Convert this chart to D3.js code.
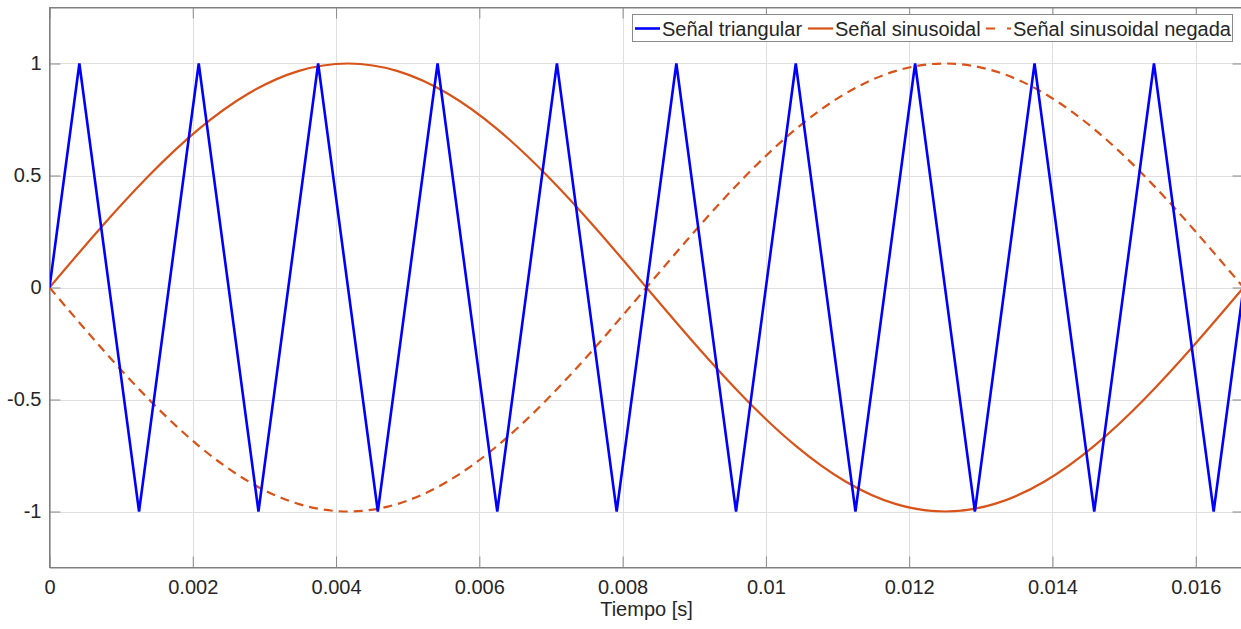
<!DOCTYPE html>
<html>
<head>
<meta charset="utf-8">
<script src="https://cdn.jsdelivr.net/npm/d3@7"></script>
<style>
  html, body { margin: 0; padding: 0; background: #fff; }
  svg { display: block; }
  text { font-family: "Liberation Sans", Arial, Helvetica, sans-serif; fill: #262626; }
</style>
</head>
<body>
<svg id="chart" width="1241" height="629"></svg>
<script>
// ---- Data ----
const xTicks = [0, 0.002, 0.004, 0.006, 0.008, 0.01, 0.012, 0.014, 0.016];
const xTickLabels = ["0", "0.002", "0.004", "0.006", "0.008", "0.01", "0.012", "0.014", "0.016"];
const yTicks = [-1, -0.5, 0, 0.5, 1];
const yTickLabels = ["-1", "-0.5", "0", "0.5", "1"];

// Triangle wave vertices
const triTime = [0, 0.000417, 0.00125, 0.002083, 0.002917, 0.00375, 0.004583, 0.005417,
  0.00625, 0.007083, 0.007917, 0.00875, 0.009583, 0.010417, 0.01125, 0.012083,
  0.012917, 0.01375, 0.014583, 0.015417, 0.01625, 0.016667];
const triValue = [0, 1, -1, 1, -1, 1, -1, 1, -1, 1, -1, 1, -1, 1, -1, 1, -1, 1, -1, 1, -1, 0];

// Sinusoid samples
const sinTime = [0, 0.000694, 0.001389, 0.002083, 0.002778, 0.003472, 0.004167, 0.004861,
  0.005556, 0.00625, 0.006944, 0.007639, 0.008333, 0.009028, 0.009722, 0.010417,
  0.011111, 0.011806, 0.0125, 0.013194, 0.013889, 0.014583, 0.015278, 0.015972, 0.016667];
const sinValue = [0, 0.259, 0.5, 0.707, 0.866, 0.966, 1, 0.966, 0.866, 0.707, 0.5, 0.259, 0,
  -0.259, -0.5, -0.707, -0.866, -0.966, -1, -0.966, -0.866, -0.707, -0.5, -0.259, 0];
const negSinValue = [0, -0.259, -0.5, -0.707, -0.866, -0.966, -1, -0.966, -0.866, -0.707, -0.5, -0.259, 0,
  0.259, 0.5, 0.707, 0.866, 0.966, 1, 0.966, 0.866, 0.707, 0.5, 0.259, 0];

const seriesNames = ["Señal triangular", "Señal sinusoidal", "Señal sinusoidal negada"];
const xLabel = "Tiempo [s]";

// ---- Layout ----
const svg = d3.select("#chart");
const L = 49.5, R = 1243.5, T = 7.5, B = 567.5;
const x = d3.scaleLinear().domain([0, 1 / 60]).range([L, R]);
const y = d3.scaleLinear().domain([-1.25, 1.25]).range([B, T]);

const blue = "#0000ff", orange = "#d95319", axisCol = "#262626", gridCol = "#dfdfdf";
const fontSize = 20;

svg.append("defs").append("clipPath").attr("id", "clip")
  .append("rect").attr("x", L).attr("y", T).attr("width", R - L).attr("height", B - T);

// Grid
const grid = svg.append("g");
grid.selectAll("line.gx").data(xTicks).enter().append("line")
  .attr("x1", d => Math.round(x(d)) + 0.5).attr("x2", d => Math.round(x(d)) + 0.5)
  .attr("y1", T).attr("y2", B).attr("stroke", gridCol).attr("stroke-width", 1);
grid.selectAll("line.gy").data(yTicks).enter().append("line")
  .attr("y1", d => Math.round(y(d)) + 0.5).attr("y2", d => Math.round(y(d)) + 0.5)
  .attr("x1", L).attr("x2", R).attr("stroke", gridCol).attr("stroke-width", 1);

// Axes (ticks inward)
const tickLen = 11;
const xAxisB = d3.axisBottom(x).tickValues(xTicks).tickSizeInner(-tickLen).tickSizeOuter(0)
  .tickFormat((d, i) => xTickLabels[i]).tickPadding(12);
const gxb = svg.append("g").attr("transform", `translate(0,${B})`).call(xAxisB);
const xAxisT = d3.axisTop(x).tickValues(xTicks).tickSizeInner(-tickLen).tickSizeOuter(0).tickFormat("");
const gxt = svg.append("g").attr("transform", `translate(0,${T})`).call(xAxisT);
const yAxisL = d3.axisLeft(y).tickValues(yTicks).tickSizeInner(-tickLen).tickSizeOuter(0)
  .tickFormat((d, i) => yTickLabels[i]).tickPadding(8);
const gyl = svg.append("g").attr("transform", `translate(${L},0)`).call(yAxisL);
const yAxisR = d3.axisRight(y).tickValues(yTicks).tickSizeInner(-tickLen).tickSizeOuter(0).tickFormat("");
const gyr = svg.append("g").attr("transform", `translate(${R},0)`).call(yAxisR);

[gxb, gxt, gyl, gyr].forEach(g => {
  g.select(".domain").attr("stroke", "#808080").attr("stroke-width", 1);
  g.selectAll(".tick line").attr("stroke", "#8a8a8a").attr("stroke-width", 1);
  g.selectAll(".tick text").attr("font-size", fontSize).attr("fill", axisCol)
    .style("font-family", '"Liberation Sans", Arial, sans-serif');
});

// Lines
const plot = svg.append("g").attr("clip-path", "url(#clip)");
const line = d3.line().x(d => x(d[0])).y(d => y(d[1]));
const smooth = d3.line().x(d => x(d[0])).y(d => y(d[1])).curve(d3.curveNatural);

plot.append("path").datum(sinTime.map((t, i) => [t, sinValue[i]]))
  .attr("d", smooth).attr("fill", "none").attr("stroke", orange).attr("stroke-width", 2.2);
plot.append("path").datum(sinTime.map((t, i) => [t, negSinValue[i]]))
  .attr("d", smooth).attr("fill", "none").attr("stroke", orange).attr("stroke-width", 2.2)
  .attr("stroke-dasharray", "9,6");
plot.append("path").datum(triTime.map((t, i) => [t, triValue[i]]))
  .attr("d", line).attr("fill", "none").attr("stroke", blue).attr("stroke-width", 2.6)
  .attr("stroke-linejoin", "miter");

// Re-draw the box edges on top
svg.append("rect").attr("x", L).attr("y", T).attr("width", R - L).attr("height", B - T)
  .attr("fill", "none").attr("stroke", "#808080").attr("stroke-width", 1);

// Axis label
svg.append("text").attr("x", (L + R) / 2).attr("y", 616).attr("text-anchor", "middle")
  .attr("font-size", fontSize).text(xLabel);

// Legend
const leg = svg.append("g");
leg.append("rect").attr("x", 632.5).attr("y", 14.5).attr("width", 600).attr("height", 27)
  .attr("fill", "#fff").attr("stroke", "#8a8a8a").attr("stroke-width", 1);
const legY = 28.5;
const legItems = [
  { x0: 635, color: blue, dash: null, w: 2.6 },
  { x0: 808, color: orange, dash: null, w: 2.2 },
  { x0: 986, color: orange, dash: "9,12", w: 2.2 }
];
legItems.forEach((it, i) => {
  const ln = leg.append("line").attr("x1", it.x0).attr("x2", it.x0 + 25)
    .attr("y1", legY).attr("y2", legY).attr("stroke", it.color).attr("stroke-width", it.w);
  if (it.dash) ln.attr("stroke-dasharray", it.dash);
  leg.append("text").attr("x", it.x0 + 27).attr("y", legY + 7).attr("font-size", fontSize)
    .attr("fill", "#000").text(seriesNames[i]);
});
</script>
</body>
</html>
